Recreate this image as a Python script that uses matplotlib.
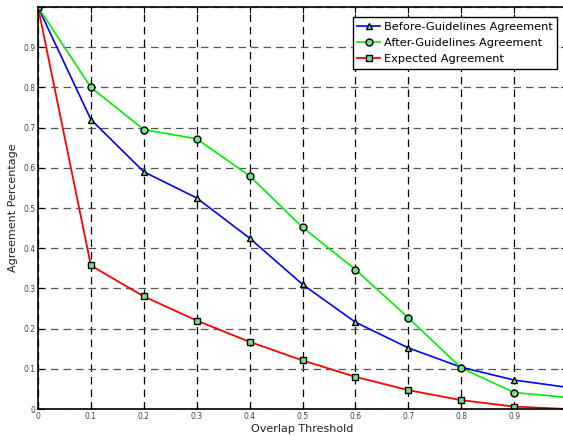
import numpy as np
import matplotlib
matplotlib.use("Agg")
from matplotlib import pyplot as plt

thresholds = [0.0, 0.1, 0.2, 0.3, 0.4, 0.5, 0.6, 0.7, 0.8, 0.9, 1.0]
before = [1.0, 0.72, 0.59, 0.525, 0.425, 0.31, 0.216, 0.152, 0.104, 0.072, 0.054]
after = [1.0, 0.80, 0.695, 0.672, 0.58, 0.452, 0.347, 0.227, 0.102, 0.041, 0.029]
expected = [1.0, 0.357, 0.28, 0.22, 0.167, 0.121, 0.080, 0.047, 0.022, 0.006, 0.0]
xticks = [0, 0.1, 0.2, 0.3, 0.4, 0.5, 0.6, 0.7, 0.8, 0.9]
yticks = [0, 0.1, 0.2, 0.3, 0.4, 0.5, 0.6, 0.7, 0.8, 0.9, 1.0]

W, H = 563, 436
fig = plt.figure(figsize=(W / 100, H / 100), dpi=100)
# axes box in pixels: x 0 -> 38px, x 1 -> 567px (cut off), y 0 -> 409px, y 1 -> 7px
ax = fig.add_axes((38 / W, 1 - 409 / H, 529 / W, 402 / H))

mface = "#77e08a"
marks = list(range(len(thresholds) - 1))
ax.plot(thresholds, before, color="blue", lw=1.2, marker="^", ms=5,
        mfc=mface, mec="black", mew=1.0, markevery=marks,
        label="Before-Guidelines Agreement")
ax.plot(thresholds, after, color="#00ee00", lw=1.2, marker="o", ms=5,
        mfc=mface, mec="black", mew=1.0, markevery=marks,
        label="After-Guidelines Agreement")
ax.plot(thresholds, expected, color="red", lw=1.3, marker="s", ms=4.5,
        mfc=mface, mec="black", mew=1.0, markevery=marks,
        label="Expected Agreement")

ax.set_xlim(0, 1)
ax.set_ylim(0, 1)
ax.set_xticks(xticks)
ax.set_xticklabels(["0"] + ["%.1f" % v for v in xticks[1:]])
ax.set_yticks(yticks)
ax.set_yticklabels(["0"] + ["%.1f" % v for v in yticks[1:-1]] + [""])
ax.tick_params(direction="in", labelsize=5.5, labelcolor="#444444", length=4,
               top=True, right=True, pad=2)

ax.xaxis.grid(True, color="black", ls=(0, (6, 4)), lw=0.9)
ax.yaxis.grid(True, color="#555555", ls=(0, (6, 4)), lw=0.9)
for s in ax.spines.values():
    s.set_linewidth(1.2)

ax.set_xlabel("Overlap Threshold", fontsize=8, labelpad=2, color="#222222")
ax.set_ylabel("Agreement Percentage", fontsize=8, labelpad=4, color="#222222")

leg = ax.legend(loc="upper right", bbox_to_anchor=(0.981, 0.975),
                borderaxespad=0, fontsize=8.2, fancybox=False, framealpha=1,
                edgecolor="black", handlelength=2.0, handletextpad=0.3,
                labelspacing=0.55, borderpad=0.4)
leg.get_frame().set_linewidth(1.0)

fig.savefig("out.png", dpi=100)
